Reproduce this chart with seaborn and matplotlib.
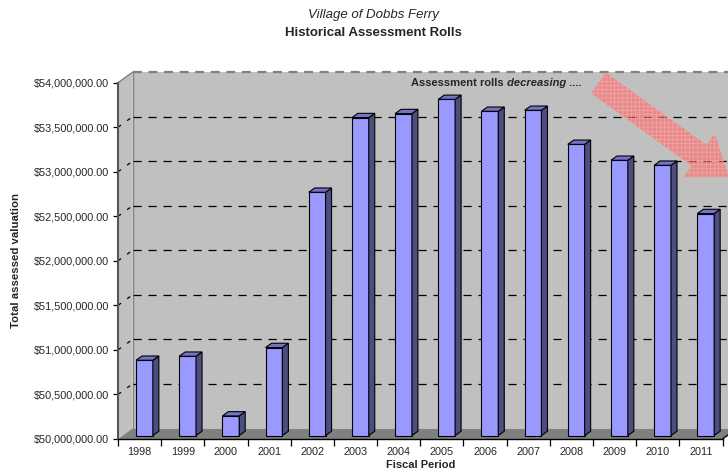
import numpy as np
import pandas as pd
import seaborn as sns
import matplotlib.pyplot as plt
import matplotlib.ticker as ticker
from matplotlib.patches import Polygon, FancyArrow

# values (dollars)
years = ['1998', '1999', '2000', '2001', '2002', '2003', '2004',
         '2005', '2006', '2007', '2008', '2009', '2010', '2011']
assessed = [50.845e6, 50.890e6, 50.220e6, 50.988e6, 52.731e6, 53.569e6, 53.614e6,
            53.774e6, 53.640e6, 53.651e6, 53.269e6, 53.090e6, 53.034e6, 52.492e6]
y_ticks = np.arange(50e6, 54e6 + 1, 5e5)

df = pd.DataFrame({'Year': years, 'Value': assessed})

sns.set_style('white')
plt.rcParams['font.family'] = ['Liberation Sans', 'DejaVu Sans']
plt.rcParams['hatch.linewidth'] = 0.4

fig = plt.figure(figsize=(7.28, 4.74), dpi=100)
ax = fig.add_axes([118 / 728, 35 / 474, 604.5 / 728, 356.3 / 474])
ax.patch.set_visible(False)

ymin, ymax = 50e6, 54e6
# fake 3d depth (wall, bar offset, bar thickness) in data units
DX, DY = 0.336, 0.118e6
OX, OY = 0.112, 0.039e6
BX, BY = 0.139, 0.048e6

sns.barplot(data=df, x='Year', y='Value', ax=ax, color='#9999FF', saturation=1,
            edgecolor='black', linewidth=0.8, width=0.39, zorder=4)
ax.set_xlim(-0.5, 13.5)
ax.set_ylim(ymin, ymax)
bars = list(ax.patches)

# walls and floor
wall_c = '#C0C0C0'
ax.add_patch(Polygon([(-0.5 + DX, ymin + DY), (15, ymin + DY), (15, ymax + DY), (-0.5 + DX, ymax + DY)],
                     closed=True, fc=wall_c, ec='none', zorder=0, clip_on=False))
ax.add_patch(Polygon([(-0.5, ymin), (-0.5 + DX, ymin + DY), (-0.5 + DX, ymax + DY), (-0.5, ymax)],
                     closed=True, fc=wall_c, ec='none', zorder=0, clip_on=False))
ax.add_patch(Polygon([(-0.5, ymin), (-0.5 + DX, ymin + DY), (13.5 + DX, ymin + DY), (13.5, ymin)],
                     closed=True, fc='#808080', ec='none', zorder=0.5, clip_on=False))
ax.plot([-0.5 + DX, -0.5 + DX], [ymin + DY, ymax + DY], color='#808080', lw=1, zorder=1, clip_on=False)
ax.plot([-0.5, -0.5 + DX], [ymax, ymax + DY], color='#808080', lw=1, zorder=1, clip_on=False)
ax.plot([-0.5 + DX, 15], [ymax + DY, ymax + DY], color='#808080', lw=1.6, dashes=(4, 3),
        zorder=1, clip_on=False)
ax.plot([13.5, 13.5 + DX], [ymin, ymin + DY], color='black', lw=1, zorder=1, clip_on=False)

for t in y_ticks[1:-1]:
    ax.plot([-0.5 + DX, 15], [t + DY, t + DY], color='black', lw=0.9, dashes=(6.5, 5.5),
            zorder=1, clip_on=False)
    ax.plot([-0.5, -0.5 + DX], [t, t + DY], color='black', lw=0.9, dashes=(3, 6),
            zorder=1, clip_on=False)

# give the bars a 3d look
for p in bars:
    top = p.get_y() + p.get_height()
    p.set_x(p.get_x() + OX)
    p.set_y(ymin + OY)
    p.set_height(top - ymin)
    x0, w = p.get_x(), p.get_width()
    y0, y1 = ymin + OY, top + OY
    ax.add_patch(Polygon([(x0 + w, y0), (x0 + w + BX, y0 + BY), (x0 + w + BX, y1 + BY), (x0 + w, y1)],
                         closed=True, fc='#4D4D80', ec='black', lw=0.8, zorder=4.1))
    ax.add_patch(Polygon([(x0, y1), (x0 + BX, y1 + BY), (x0 + w + BX, y1 + BY), (x0 + w, y1)],
                         closed=True, fc='#7373C8', ec='black', lw=0.8, zorder=4.1))

# axes styling
for s in ['top', 'right']:
    ax.spines[s].set_visible(False)
ax.spines['left'].set_color('#555555')
ax.spines['left'].set_linewidth(1.5)
ax.spines['bottom'].set_color('black')
ax.spines['bottom'].set_linewidth(1)
ax.spines['left'].set_zorder(5)
ax.spines['bottom'].set_zorder(5)

ax.set_yticks(y_ticks)
ax.yaxis.set_major_formatter(ticker.FuncFormatter(lambda v, pos: f'${v:,.2f}'))
ax.tick_params(axis='y', left=True, direction='out', length=3.8, width=0.9, pad=2.5,
               labelsize=7.8, color='black')
ax.set_xticks(np.arange(-0.5, 14, 1), minor=True)
ax.tick_params(axis='x', which='major', bottom=True, length=0, pad=6, labelsize=7.8)
ax.tick_params(axis='x', which='minor', bottom=True, direction='out', length=4.8, width=0.9,
               color='black')

ax.set_xlabel('Fiscal Period', fontweight='bold', fontsize=8, labelpad=2)
ax.set_ylabel('Total assessed valuation', fontweight='bold', fontsize=8.2)
ax.yaxis.set_label_coords(-0.16, 0.5)

fig.text(373 / 728, 1 - 15 / 474, 'Village of Dobbs Ferry', style='italic', fontsize=9.5,
         ha='center', va='center')
fig.text(373 / 728, 1 - 33 / 474, 'Historical Assessment Rolls', fontweight='bold', fontsize=9.5,
         ha='center', va='center')

# note with mixed styles
t1 = fig.text(411 / 728, 1 - 83 / 474, 'Assessment rolls', fontweight='bold', fontsize=8,
              ha='left', va='center')
t2 = ax.annotate(' decreasing', xy=(1, 0), xycoords=t1, ha='left', va='bottom',
                 fontweight='bold', style='italic', fontsize=8)
ax.annotate(' ....', xy=(1, 0), xycoords=t2, ha='left', va='bottom',
            fontweight='bold', fontsize=8)

arrow = FancyArrow(5.985, 3.91, 1.305, -0.94, width=0.255, head_width=0.54, head_length=0.37,
                   length_includes_head=True, transform=fig.dpi_scale_trans,
                   fc=(1.0, 0.42, 0.42, 0.62), ec=(1.0, 0.72, 0.72, 0.7), lw=0,
                   hatch='++++', zorder=3)
fig.add_artist(arrow)

fig.savefig('out.png', dpi=100)
